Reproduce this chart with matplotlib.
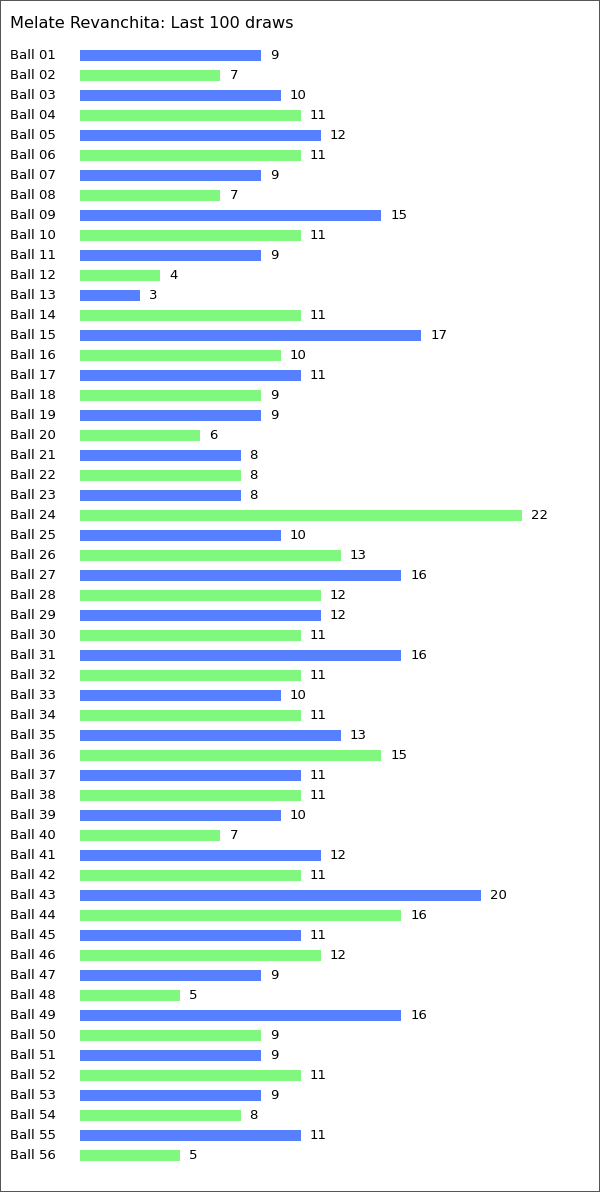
import matplotlib
matplotlib.use("Agg")
import matplotlib.pyplot as plt
import matplotlib.transforms as mtransforms
from matplotlib.patches import Rectangle

title = "Melate Revanchita: Last 100 draws"
balls = ["Ball %02d" % i for i in range(1, 57)]
counts = [9, 7, 10, 11, 12, 11, 9, 7, 15, 11,
          9, 4, 3, 11, 17, 10, 11, 9, 9, 6,
          8, 8, 8, 22, 10, 13, 16, 12, 12, 11,
          16, 11, 10, 11, 13, 15, 11, 11, 10, 7,
          12, 11, 20, 16, 11, 12, 9, 5, 16, 9,
          9, 11, 9, 8, 11, 5]
colors = ['#5780ff', '#80f880']

W, H = 600, 1192
fig = plt.figure(figsize=(W/100, H/100), dpi=100)
fig.patch.set_facecolor('white')

# axes from x=80px to the right edge, full height
ax = fig.add_axes([80/W, 0, 1 - 80/W, 1])
ax.set_axis_off()
px_per_unit = 20.07
ax.set_xlim(0, (W - 80) / px_per_unit)
row_h = 20.0
first = 55.5
ax.set_ylim((H - first) / row_h, -first / row_h)

ypos = list(range(len(balls)))
bar_cols = [colors[i % 2] for i in ypos]
ax.barh(ypos, counts, height=11/row_h, color=bar_cols, linewidth=0)

trans = mtransforms.blended_transform_factory(fig.transFigure, ax.transData)
for y, name, c in zip(ypos, balls, counts):
    ax.text(10/W, y, name, transform=trans, ha='left', va='center',
            fontsize=9.5, color='black')
    ax.annotate(str(c), (c, y), xytext=(6.5, 0), textcoords='offset points',
                ha='left', va='center', fontsize=9.5, color='black')

fig.text(10/W, 1 - 24/H, title, ha='left', va='center', fontsize=11.6, color='black')

# 1px frame: a 2px line centred on the figure edge, half of it gets clipped
fig.patches.append(Rectangle((0, 0), 1, 1, transform=fig.transFigure,
                             fill=False, edgecolor='#555555', linewidth=1.44,
                             antialiased=False))

fig.savefig("out.png", dpi=100)
